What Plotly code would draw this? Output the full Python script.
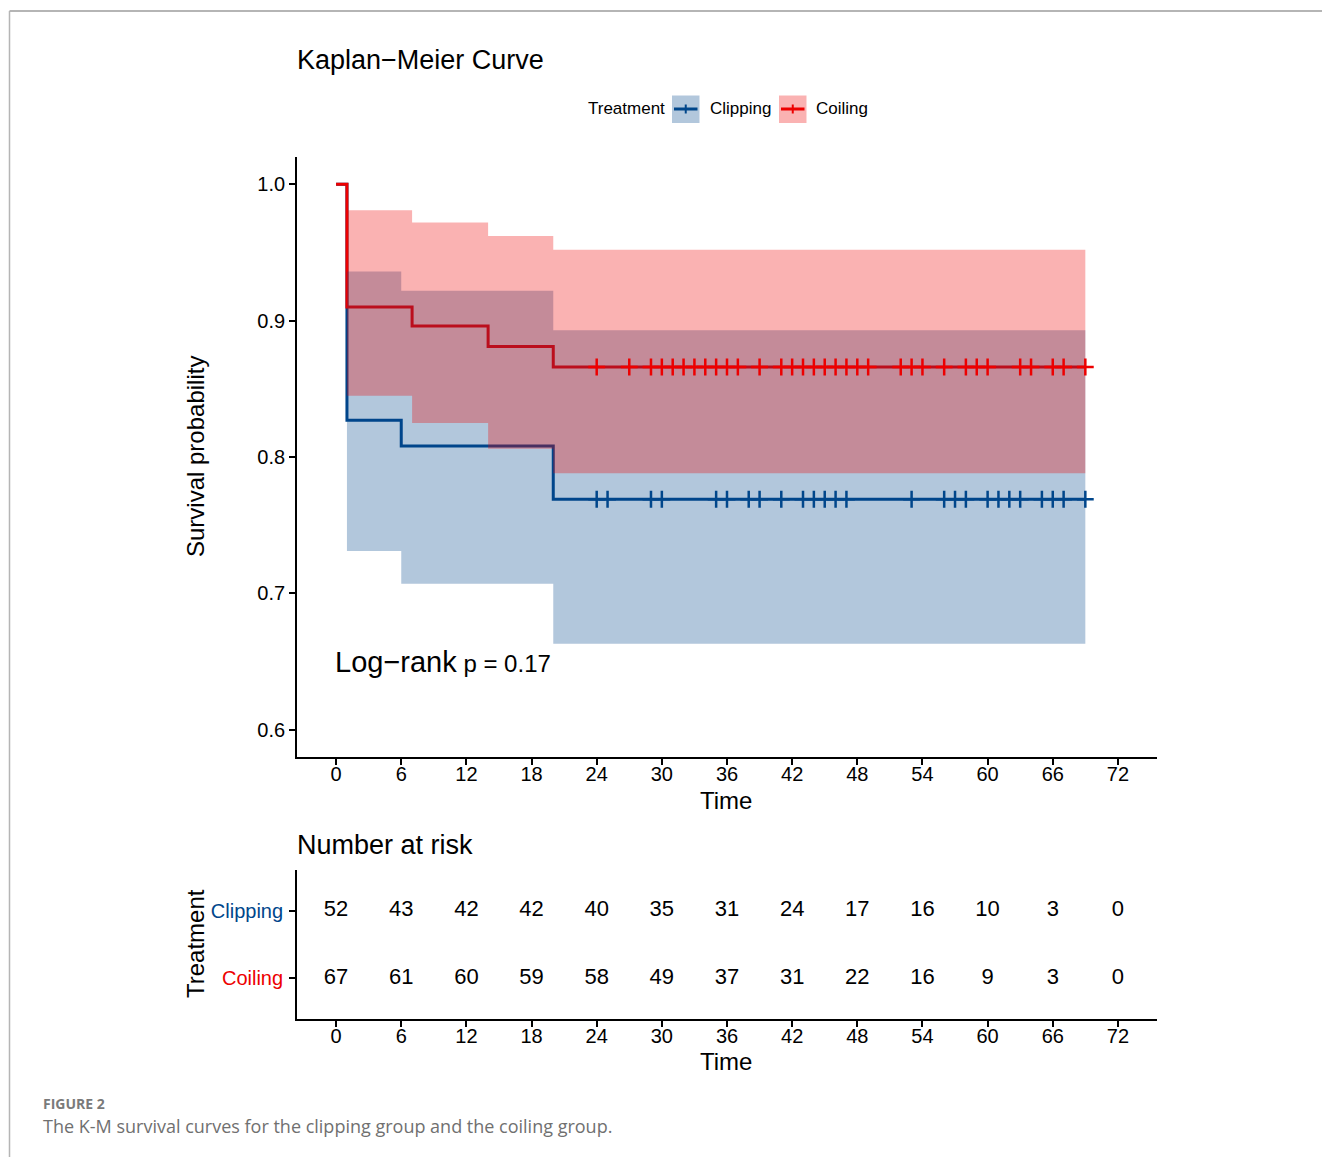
import plotly.graph_objects as go

W, H = 1322, 1157

# ---- Kaplan-Meier estimates ----
clip_t = [0, 1, 6, 20, 69]
clip_s = [1.0, 0.827, 0.808, 0.769, 0.769]
coil_t = [0, 1, 7, 14, 20, 69]
coil_s = [1.0, 0.910, 0.896, 0.881, 0.866, 0.866]

# confidence bands
clip_ci_t = [1, 6, 20, 69]
clip_up = [0.936, 0.922, 0.893, 0.893]
clip_lo = [0.731, 0.707, 0.663, 0.663]
coil_ci_t = [1, 7, 14, 20, 69]
coil_up = [0.981, 0.972, 0.962, 0.952, 0.952]
coil_lo = [0.845, 0.825, 0.806, 0.788, 0.788]

# censoring times
clip_cens = [24, 25, 29, 30, 35, 36, 38, 39, 41, 43, 44, 45, 46, 47,
             53, 56, 57, 58, 60, 61, 62, 63, 65, 66, 67, 69]
coil_cens = [24, 27, 29, 30, 31, 32, 33, 34, 35, 36, 37, 39, 41, 42, 43,
             44, 45, 46, 47, 48, 49, 52, 53, 54, 56, 58, 59, 60, 63, 64,
             66, 67, 69]

# number at risk
risk_times = [0, 6, 12, 18, 24, 30, 36, 42, 48, 54, 60, 66, 72]
clip_risk = [52, 43, 42, 42, 40, 35, 31, 24, 17, 16, 10, 3, 0]
coil_risk = [67, 61, 60, 59, 58, 49, 37, 31, 22, 16, 9, 3, 0]

x_ticks = [0, 6, 12, 18, 24, 30, 36, 42, 48, 54, 60, 66, 72]
y_ticks = [0.6, 0.7, 0.8, 0.9, 1.0]

BLUE = "#00468B"
RED = "#ED0000"
BLUE_FILL = "rgba(0,70,139,0.3)"
RED_FILL = "rgba(237,0,0,0.3)"
FONT = "Liberation Sans, Arial, sans-serif"


def step_at(ts, ss, t):
    v = ss[0]
    for ti, si in zip(ts, ss):
        if ti <= t:
            v = si
    return v


def px(x):
    return x / W


def py(y):
    return 1 - y / H


fig = go.Figure()

# survival step lines (drawn beneath the ribbons, as in survminer)
fig.add_trace(go.Scatter(x=clip_t, y=clip_s, mode="lines", line=dict(color=BLUE, width=3, shape="hv"),
                         showlegend=False, xaxis="x", yaxis="y"))
fig.add_trace(go.Scatter(x=coil_t, y=coil_s, mode="lines", line=dict(color=RED, width=3, shape="hv"),
                         showlegend=False, xaxis="x", yaxis="y"))

# confidence ribbons
fig.add_trace(go.Scatter(x=clip_ci_t, y=clip_lo, mode="lines", line=dict(width=0, shape="hv"),
                         showlegend=False, xaxis="x", yaxis="y"))
fig.add_trace(go.Scatter(x=clip_ci_t, y=clip_up, mode="lines", line=dict(width=0, shape="hv"),
                         fill="tonexty", fillcolor=BLUE_FILL, showlegend=False, xaxis="x", yaxis="y"))
fig.add_trace(go.Scatter(x=coil_ci_t, y=coil_lo, mode="lines", line=dict(width=0, shape="hv"),
                         showlegend=False, xaxis="x", yaxis="y"))
fig.add_trace(go.Scatter(x=coil_ci_t, y=coil_up, mode="lines", line=dict(width=0, shape="hv"),
                         fill="tonexty", fillcolor=RED_FILL, showlegend=False, xaxis="x", yaxis="y"))

# censor marks
fig.add_trace(go.Scatter(x=clip_cens, y=[step_at(clip_t, clip_s, t) for t in clip_cens], mode="markers",
                         marker=dict(symbol="cross-thin", size=12, line=dict(width=2.5, color=BLUE)),
                         showlegend=False, xaxis="x", yaxis="y"))
fig.add_trace(go.Scatter(x=coil_cens, y=[step_at(coil_t, coil_s, t) for t in coil_cens], mode="markers",
                         marker=dict(symbol="cross-thin", size=12, line=dict(width=2.5, color=RED)),
                         showlegend=False, xaxis="x", yaxis="y"))

# risk table
fig.add_trace(go.Scatter(x=risk_times, y=[1] * len(risk_times), mode="text",
                         text=[str(v) for v in clip_risk],
                         textfont=dict(size=22, color="black", family=FONT),
                         showlegend=False, xaxis="x2", yaxis="y2"))
fig.add_trace(go.Scatter(x=risk_times, y=[0] * len(risk_times), mode="text",
                         text=[str(v) for v in coil_risk],
                         textfont=dict(size=22, color="black", family=FONT),
                         showlegend=False, xaxis="x2", yaxis="y2"))

axis_common = dict(showgrid=False, zeroline=False, showline=True, linecolor="black", linewidth=1.8,
                   ticks="outside", ticklen=6, tickwidth=1.6, tickcolor="black",
                   tickfont=dict(size=20, color="black", family=FONT))

fig.update_layout(
    width=W, height=H,
    margin=dict(l=0, r=0, t=0, b=0),
    paper_bgcolor="white", plot_bgcolor="white",
    font=dict(family=FONT, color="black"),
    xaxis=dict(domain=[px(297), px(1157)], range=[-3.6, 75.6], tickvals=x_ticks,
               anchor="y", ticklabelstandoff=-8, **axis_common),
    yaxis=dict(domain=[py(757), py(157)], range=[0.58, 1.02], tickvals=y_ticks,
               tickformat=".1f", anchor="x", **axis_common),
    xaxis2=dict(domain=[px(297), px(1157)], range=[-3.6, 75.6], tickvals=x_ticks,
                anchor="y2", ticklabelstandoff=-8, **axis_common),
    yaxis2=dict(domain=[py(1019), py(870)], range=[-0.6, 1.6], tickvals=[0, 1],
                ticktext=[f"<span style='color:{RED}'>Coiling</span>",
                          f"<span style='color:{BLUE}'>Clipping</span>"],
                anchor="x2", ticklabelstandoff=2,
                **{**axis_common, "tickfont": dict(size=20, family=FONT)}),
)

ann = []
# titles
ann.append(dict(text="Kaplan\u2212Meier Curve", x=px(295), y=py(60), xanchor="left", yanchor="middle",
                font=dict(size=27, family=FONT, color="black")))
ann.append(dict(text="Number at risk", x=px(295), y=py(845), xanchor="left", yanchor="middle",
                font=dict(size=27, family=FONT, color="black")))
# axis titles
ann.append(dict(text="Survival probability", x=px(195), y=py(457), textangle=-90, xanchor="center",
                yanchor="middle", font=dict(size=24, family=FONT, color="black")))
ann.append(dict(text="Time", x=px(726), y=py(800), xanchor="center", yanchor="middle",
                font=dict(size=24, family=FONT, color="black")))
ann.append(dict(text="Treatment", x=px(195), y=py(944), textangle=-90, xanchor="center",
                yanchor="middle", font=dict(size=24, family=FONT, color="black")))
ann.append(dict(text="Time", x=px(726), y=py(1061), xanchor="center", yanchor="middle",
                font=dict(size=24, family=FONT, color="black")))
# log-rank
ann.append(dict(text="<span style='font-size:29px'>Log\u2212rank</span> p = 0.17", x=-0.25, y=0.6497,
                xref="x", yref="y", xanchor="left", yanchor="middle", showarrow=False,
                font=dict(size=24, family=FONT, color="black")))
# legend texts
ann.append(dict(text="Treatment", x=px(586), y=py(109), xanchor="left", yanchor="middle",
                font=dict(size=17, family=FONT, color="black")))
ann.append(dict(text="Clipping", x=px(708), y=py(109), xanchor="left", yanchor="middle",
                font=dict(size=17, family=FONT, color="black")))
ann.append(dict(text="Coiling", x=px(814), y=py(109), xanchor="left", yanchor="middle",
                font=dict(size=17, family=FONT, color="black")))
# caption
ann.append(dict(text="<b>FIGURE 2</b>", x=px(41), y=py(1103), xanchor="left", yanchor="middle",
                font=dict(size=14, family="Open Sans, sans-serif", color="#7a7a7a")))
ann.append(dict(text="The K-M survival curves for the clipping group and the coiling group.",
                x=px(41), y=py(1126), xanchor="left", yanchor="middle",
                font=dict(size=18, family="Open Sans, sans-serif", color="#707070")))
for a in ann:
    a.setdefault("xref", "paper")
    a.setdefault("yref", "paper")
    a.setdefault("showarrow", False)
fig.update_layout(annotations=ann)

shapes = []
# page border lines
shapes.append(dict(type="line", x0=px(9.5), x1=1, y0=py(11), y1=py(11), line=dict(color="#b5b5b5", width=2)))
shapes.append(dict(type="line", x0=px(9.5), x1=px(9.5), y0=py(11), y1=0, line=dict(color="#b5b5b5", width=1.5)))
# legend keys
for (x0, col, fillc) in [(672, BLUE, BLUE_FILL), (779, RED, RED_FILL)]:
    shapes.append(dict(type="rect", x0=px(x0), x1=px(x0 + 27.5), y0=py(123), y1=py(95.5),
                       fillcolor=fillc, line=dict(width=0)))
    shapes.append(dict(type="line", x0=px(x0 + 2), x1=px(x0 + 25.5), y0=py(109), y1=py(109),
                       line=dict(color=col, width=3)))
    shapes.append(dict(type="line", x0=px(x0 + 13.75), x1=px(x0 + 13.75), y0=py(104.5), y1=py(113.5),
                       line=dict(color=col, width=2)))
for s in shapes:
    s["xref"] = "paper"
    s["yref"] = "paper"
fig.update_layout(shapes=shapes)

fig.write_html("out.html", config={"displayModeBar": False},
               post_script="document.body.style.margin='0px';")
